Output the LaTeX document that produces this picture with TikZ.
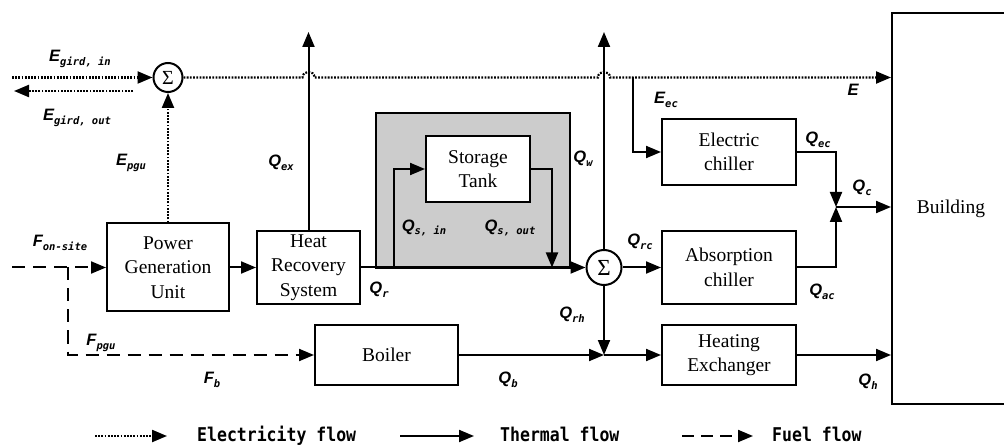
\documentclass[tikz,border=0pt]{standalone}
\usepackage{fontspec}
\usepackage{graphicx}
\setmainfont{Liberation Serif}
\newfontfamily\labfont{Liberation Sans}
\newfontfamily\subfont{DejaVu Sans Mono}
\newfontfamily\legfont{DejaVu Sans Mono}
\usetikzlibrary{arrows.meta}
\newcommand\lbl[2]{{\labfont\bfseries\itshape\fontsize{16.5}{16.5}\selectfont #1\raisebox{-0.22em}{\subfont\bfseries\itshape\fontsize{10.5}{10.5}\selectfont #2}}}
\newcommand\legtxt[1]{\scalebox{1}[1.15]{\legfont\bfseries\fontsize{16.5}{16.5}\selectfont #1}}
\tikzset{
  blk/.style={draw, line width=2pt, fill=white, align=center, inner sep=0pt,
    font=\fontsize{19.5}{24.5}\selectfont},
  tip/.style={-{Triangle[length=15pt,width=12pt]}},
  thermal/.style={line width=2pt, tip},
  elec/.style={line width=2.2pt, dash pattern=on 1.8pt off 1.4pt, tip},
  fuel/.style={line width=2pt, dash pattern=on 13pt off 8pt, tip},
  sumnode/.style={circle, draw, line width=2pt, fill=white, inner sep=0pt},
  lab/.style={inner sep=0pt}
}
\begin{document}
\begin{tikzpicture}[x=1pt,y=-1pt]
\useasboundingbox (0,0) rectangle (1004,446);
% storage region
\node[draw, fill=gray!40, line width=2pt, minimum width=194, minimum height=155, inner sep=0pt] (stor) at (473,190.5) {};
% blocks
\node[blk, minimum width=122, minimum height=88] (pgu) at (168,267.5) {Power\\Generation\\Unit};
\node[blk, minimum width=103, minimum height=73] (hrs) at (308.5,267.5) {Heat\\Recovery\\System};
\node[blk, minimum width=104, minimum height=66] (tank) at (478,169) {Storage\\Tank};
\node[blk, minimum width=143, minimum height=59] (boiler) at (386.5,355) {Boiler};
\node[blk, minimum width=134, minimum height=66] (ech) at (729,152) {Electric\\chiller};
\node[blk, minimum width=134, minimum height=73] (abs) at (729,267.5) {Absorption\\chiller};
\node[blk, minimum width=134, minimum height=60] (hex) at (729,355) {Heating\\Exchanger};
\node[blk, minimum width=118, minimum height=391] (bld) at (951,208.5) {Building};
\node[sumnode, minimum size=29, font=\fontsize{20}{20}\selectfont] (sum1) at (168,77.5) {Σ};
\node[sumnode, minimum size=35, font=\fontsize{23}{23}\selectfont] (sum2) at (604,267.5) {Σ};
% coordinates
\coordinate (ein) at (12,77.5);
\coordinate (eos) at (133,91);
\coordinate (eoe) at (14,91);
\coordinate (eecb) at (633,77.5);
\coordinate (qext) at (308.5,32);
\coordinate (qwt) at (604,32);
\coordinate (qsin) at (394,267.5);
\coordinate (qsout) at (552,267.5);
\coordinate (jc) at (836,207);
\coordinate (jh) at (604,355);
\coordinate (fin) at (12,267.5);
\coordinate (fbr) at (68,267.5);
% electricity
\draw[elec] (ein) -- (sum1.west);
\draw[elec] (eos) -- (eoe);
\draw[elec] (pgu.north) -- (sum1.south);
\draw[elec] (sum1.east) -- (302.5,77.5) .. controls (302.5,70) and (314.5,70) .. (314.5,77.5)
  -- (598,77.5) .. controls (598,70) and (610,70) .. (610,77.5) -- (bld.west |- sum1);
\draw[thermal] (eecb) |- (ech.west);
% thermal
\draw[thermal] (hrs.north) -- (qext);
\draw[thermal] (sum2.north) -- (qwt);
\draw[thermal] (pgu.east) -- (hrs.west);
\draw[thermal] (hrs.east) -- (sum2.west);
\draw[thermal] (qsin) |- (tank.west);
\draw[thermal] (tank.east) -| (qsout);
\draw[thermal] (sum2.east) -- (abs.west);
\draw[thermal] (ech.east) -| (jc);
\draw[thermal] (abs.east) -| (jc);
\draw[thermal] (jc) -- (bld.west |- jc);
\draw[thermal] (sum2.south) -- (jh);
\draw[thermal] (boiler.east) -- (jh);
\draw[thermal] (jh) -- (hex.west);
\draw[thermal] (hex.east) -- (bld.west |- hex.east);
% fuel
\draw[fuel] (fin) -- (pgu.west);
\draw[fuel] (fbr) |- (boiler.west);
% labels
\node[lab] (l1) at (80,59) {\lbl{E}{gird, in}};
\node[lab] (l2) at (77,118) {\lbl{E}{gird, out}};
\node[lab] (l3) at (131,163) {\lbl{E}{pgu}};
\node[lab] (l4) at (281,163) {\lbl{Q}{ex}};
\node[lab] (l5) at (583,159) {\lbl{Q}{w}};
\node[lab] (l6) at (666,100) {\lbl{E}{ec}};
\node[lab] (l7) at (853,92) {\lbl{E}{}};
\node[lab] (l8) at (818,140) {\lbl{Q}{ec}};
\node[lab] (l9) at (862,188) {\lbl{Q}{c}};
\node[lab] (l10) at (822,292) {\lbl{Q}{ac}};
\node[lab] (l11) at (640,242) {\lbl{Q}{rc}};
\node[lab] (l12) at (572,315) {\lbl{Q}{rh}};
\node[lab] (l13) at (424,228) {\lbl{Q}{s, in}};
\node[lab] (l14) at (510,228) {\lbl{Q}{s, out}};
\node[lab] (l15) at (379,290) {\lbl{Q}{r}};
\node[lab] (l16) at (508,380) {\lbl{Q}{b}};
\node[lab] (l17) at (868,382) {\lbl{Q}{h}};
\node[lab] (l18) at (60,243) {\lbl{F}{on-site}};
\node[lab] (l19) at (101,343) {\lbl{F}{pgu}};
\node[lab] (l20) at (212,380) {\lbl{F}{b}};
% legend
\coordinate (g1a) at (95,436); \coordinate (g1b) at (167,436);
\coordinate (g2a) at (400,436); \coordinate (g2b) at (474,436);
\coordinate (g3a) at (682,436); \coordinate (g3b) at (753,436);
\draw[elec] (g1a) -- (g1b);
\draw[thermal] (g2a) -- (g2b);
\draw[fuel, dash pattern=on 12pt off 7pt] (g3a) -- (g3b);
\node[lab, anchor=base west] (t1) at (197,441) {\legtxt{Electricity flow}};
\node[lab, anchor=base west] (t2) at (500,441) {\legtxt{Thermal flow}};
\node[lab, anchor=base west] (t3) at (772,441) {\legtxt{Fuel flow}};
\end{tikzpicture}
\end{document}
